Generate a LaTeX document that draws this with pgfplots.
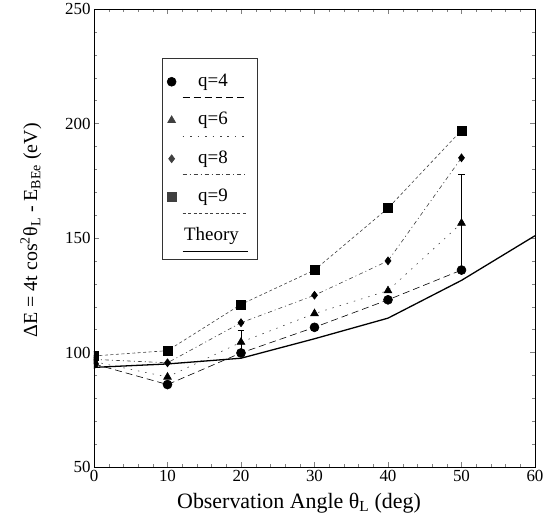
\documentclass[border=0pt]{standalone}
\usepackage{pgfplots}
\pgfplotsset{compat=1.18}
\usepackage{fontspec}
\setmainfont{Liberation Serif}

\begin{document}
\begin{tikzpicture}
\begin{axis}[
  at={(0,0)}, anchor=south west,
  scale only axis, width=441bp, height=458bp,
  xmin=0, xmax=60, ymin=50, ymax=250,
  xtick={0,10,...,60}, ytick={50,100,...,250},
  minor x tick num=4, minor y tick num=4,
  tick align=inside,
  major tick length=5bp, minor tick length=3bp,
  tick label style={font=\fontsize{17}{20}\selectfont},
  /pgf/number format/assume math mode=true,
  axis line style={line width=0.6pt},
  clip mode=individual, clip marker paths=true,
  xlabel={Observation Angle θ\textsubscript{L} (deg)},
  xlabel style={font=\fontsize{22}{26}\selectfont, at={(axis description cs:0.465,-0.079)}, anchor=center},
  ylabel={ΔE = 4t cos\textsuperscript{2}θ\textsubscript{L} - E\textsubscript{BEe} (eV)},
  ylabel style={font=\fontsize{20}{24}\selectfont, at={(axis description cs:-0.143,0.517)}, anchor=center},
  legend cell align=left,
  legend style={at={(axis description cs:0.154,0.893)}, anchor=north west,
    draw=black!80, line width=0.5pt,
    font=\fontsize{19}{22}\selectfont,
    inner xsep=5bp, inner ysep=15bp,
    row sep=21.5bp, column sep=1bp,
    nodes={inner xsep=0bp, inner ysep=0bp, text height=13bp, text depth=4bp}},
]
% q=4
\addplot[black, line width=0.6pt, dash pattern=on 7pt off 4pt,
  mark=*, mark size=4.5pt, mark options={solid, fill=black},
  legend image code/.code={
    \draw[overlay] (11bp,-16bp) -- (76bp,-16bp);
    \draw[mark options={solid}] plot[only marks] coordinates {(0bp,0bp)};}]
  coordinates {(0,95) (10,86) (20,99.8) (30,111) (40,123) (50,136)};
\addlegendentry{\hspace*{21bp}q=4\hspace*{24bp}}
% q=6
\addplot[black!75, line width=0.6pt, dash pattern=on 1.5pt off 6pt,
  mark=triangle*, mark size=4.5pt, mark options={solid, fill=black, draw=black},
  legend image code/.code={
    \draw[overlay] (11bp,-16bp) -- (76bp,-16bp);
    \draw[mark options={solid}] plot[only marks] coordinates {(0bp,0bp)};}]
  coordinates {(0,96) (10,89.3) (20,104.5) (30,117) (40,127) (50,156.5)};
\addlegendentry{\hspace*{21bp}q=6\hspace*{24bp}}
% q=8
\addplot[black!75, line width=0.6pt, dash pattern=on 4pt off 3pt on 1pt off 3pt,
  mark=diamond*, mark size=4pt, mark options={solid, fill=black, draw=black},
  legend image code/.code={
    \draw[overlay] (11bp,-16bp) -- (76bp,-16bp);
    \draw[mark options={solid}] plot[only marks] coordinates {(0bp,0bp)};}]
  coordinates {(0,97) (10,95.5) (20,113) (30,125) (40,140) (50,185)};
\addlegendentry{\hspace*{21bp}q=8\hspace*{24bp}}
% q=9
\addplot[black!75, line width=0.6pt, dash pattern=on 3pt off 2.5pt,
  mark=square*, mark size=4.5pt, mark options={solid, fill=black, draw=black},
  legend image code/.code={
    \draw[overlay] (11bp,-16bp) -- (76bp,-16bp);
    \draw[mark options={solid}] plot[only marks] coordinates {(0bp,0bp)};}]
  coordinates {(0,98.5) (10,100.8) (20,121) (30,136) (40,163) (50,197)};
\addlegendentry{\hspace*{21bp}q=9\hspace*{24bp}}
% Theory
\addplot[black, line width=1.3pt, mark=none,
  legend image code/.code={
    \draw[overlay] (11bp,-16bp) -- (76bp,-16bp);}]
  coordinates {(0,93.5) (10,95) (20,97.5) (30,106) (40,115) (50,131.5) (60,151)};
\addlegendentry{\hspace*{7bp}Theory\hspace*{13bp}}
% error bars for q=6
\addplot[forget plot, only marks, mark=none, black,
  error bars/.cd, y dir=both, y explicit,
  error bar style={solid, black, line width=0.6pt},
  error mark options={rotate=90, mark size=3.5pt, black}]
  coordinates {(20,104.5) +- (0,5.2) (50,156.5) +- (0,21.5)};
\end{axis}
\pgfresetboundingbox
\path[use as bounding box] (-94bp,-57bp) rectangle (459bp,467bp);
\end{tikzpicture}
\end{document}
